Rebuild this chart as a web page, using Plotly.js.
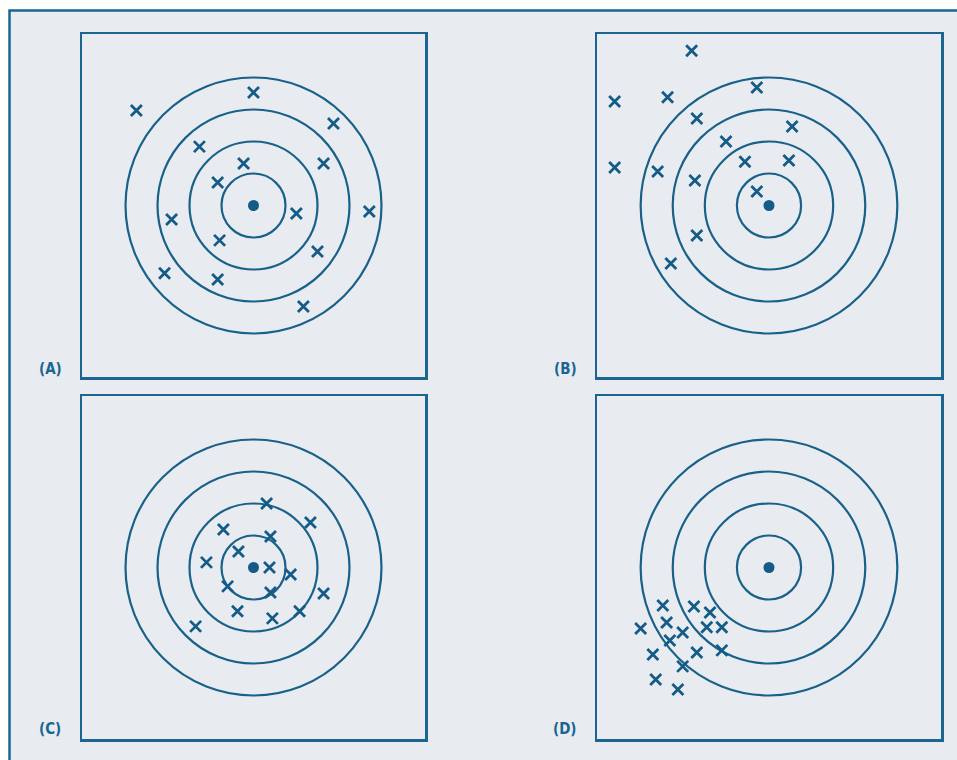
<!DOCTYPE html>
<html>
<head>
<meta charset="utf-8">
<script src="https://cdn.plot.ly/plotly-3.0.1.min.js"></script>
<style>html,body{margin:0;padding:0;background:#fff;}#chart{width:957px;height:760px;}</style>
</head>
<body>
<div id="chart"></div>
<script>
// ---- data ----
const panelLabels = ["(A)", "(B)", "(C)", "(D)"];
const ringRadii = [1, 2, 3, 4];

const shotsAx = [-3.66, 0.00, 2.50, -1.69, -0.31, 2.19, -1.12, 1.34, 3.62, -2.56, -1.06, 2.00, -2.78, -1.12, 1.56];
const shotsAy = [2.97, 3.53, 2.56, 1.84, 1.31, 1.31, 0.72, -0.25, -0.19, -0.44, -1.09, -1.44, -2.12, -2.31, -3.16];

const shotsBx = [-2.41, -4.81, -3.16, -0.38, -2.25, 0.72, -1.34, -0.75, 0.62, -4.81, -3.47, -2.31, -0.38, -2.25, -3.06];
const shotsBy = [4.84, 3.25, 3.38, 3.69, 2.72, 2.47, 2.00, 1.37, 1.41, 1.19, 1.06, 0.78, 0.44, -0.94, -1.81];

const shotsCx = [0.41, 1.78, -0.94, 0.53, -0.47, -1.47, 0.50, 1.16, -0.81, 0.53, 2.19, -0.50, 1.44, 0.59, -1.81];
const shotsCy = [2.00, 1.41, 1.19, 0.97, 0.50, 0.16, 0.00, -0.22, -0.59, -0.78, -0.81, -1.37, -1.37, -1.59, -1.84];

const shotsDx = [-3.31, -2.34, -1.84, -3.19, -4.00, -2.69, -1.94, -1.47, -3.09, -3.62, -2.25, -1.47, -2.69, -3.53, -2.84];
const shotsDy = [-1.19, -1.22, -1.41, -1.72, -1.91, -2.03, -1.87, -1.87, -2.28, -2.72, -2.66, -2.59, -3.09, -3.50, -3.81];

const bullX = [0];
const bullY = [0];

// ---- styling ----
const W = 957, H = 760;
const lineCol = '#1b6590';
const ringCol = '#1a6189';
const markCol = '#145c87';
const bgCol = '#e8ecf0';
const half = 5.36;

const panels = [
  {xs: shotsAx, ys: shotsAy, px: [82, 425], py: [34, 377], lab: [50, 369]},
  {xs: shotsBx, ys: shotsBy, px: [597, 941], py: [34, 377], lab: [565, 369]},
  {xs: shotsCx, ys: shotsCy, px: [82, 425], py: [396, 739], lab: [50, 729]},
  {xs: shotsDx, ys: shotsDy, px: [597, 941], py: [396, 739], lab: [565, 729]}
];

const traces = [];
const shapes = [{
  type: 'rect', xref: 'paper', yref: 'paper', layer: 'below',
  x0: 9.5 / W, x1: 1.05, y0: -0.05, y1: 1 - 10.5 / H,
  fillcolor: bgCol, line: {color: lineCol, width: 2.5}
}];
const annotations = [];
const layout = {
  width: W, height: H,
  margin: {l: 0, r: 0, t: 0, b: 0},
  paper_bgcolor: '#ffffff',
  plot_bgcolor: 'rgba(0,0,0,0)',
  showlegend: false
};

panels.forEach((p, i) => {
  const n = i === 0 ? '' : String(i + 1);
  const xa = 'x' + n, ya = 'y' + n;
  const axBase = {
    range: [-half, half], showgrid: false, zeroline: false, showticklabels: false,
    ticks: '', showline: true, mirror: true, linecolor: lineCol, linewidth: 2.5,
    fixedrange: true
  };
  layout['xaxis' + n] = Object.assign({}, axBase, {domain: [p.px[0] / W, p.px[1] / W], anchor: ya});
  layout['yaxis' + n] = Object.assign({}, axBase, {domain: [1 - p.py[1] / H, 1 - p.py[0] / H], anchor: xa});

  ringRadii.forEach(r => {
    shapes.push({
      type: 'circle', xref: xa, yref: ya, layer: 'below',
      x0: -r, x1: r, y0: -r, y1: r,
      line: {color: ringCol, width: 2.2}
    });
  });

  traces.push({
    type: 'scatter', mode: 'markers', x: p.xs, y: p.ys, xaxis: xa, yaxis: ya,
    marker: {symbol: 'x-thin', size: 11, color: markCol, line: {color: markCol, width: 2.8}},
    hoverinfo: 'skip'
  });
  traces.push({
    type: 'scatter', mode: 'markers', x: bullX, y: bullY, xaxis: xa, yaxis: ya,
    marker: {symbol: 'circle', size: 11, color: markCol},
    hoverinfo: 'skip'
  });

  annotations.push({
    xref: 'paper', yref: 'paper', x: p.lab[0] / W, y: 1 - p.lab[1] / H,
    xanchor: 'center', yanchor: 'middle', showarrow: false,
    text: panelLabels[i],
    font: {family: 'DejaVu Sans Condensed, DejaVu Sans', size: 15, weight: 'bold', color: lineCol}
  });
});

layout.shapes = shapes;
layout.annotations = annotations;

Plotly.newPlot('chart', traces, layout, {displayModeBar: false, staticPlot: true});
</script>
</body>
</html>
